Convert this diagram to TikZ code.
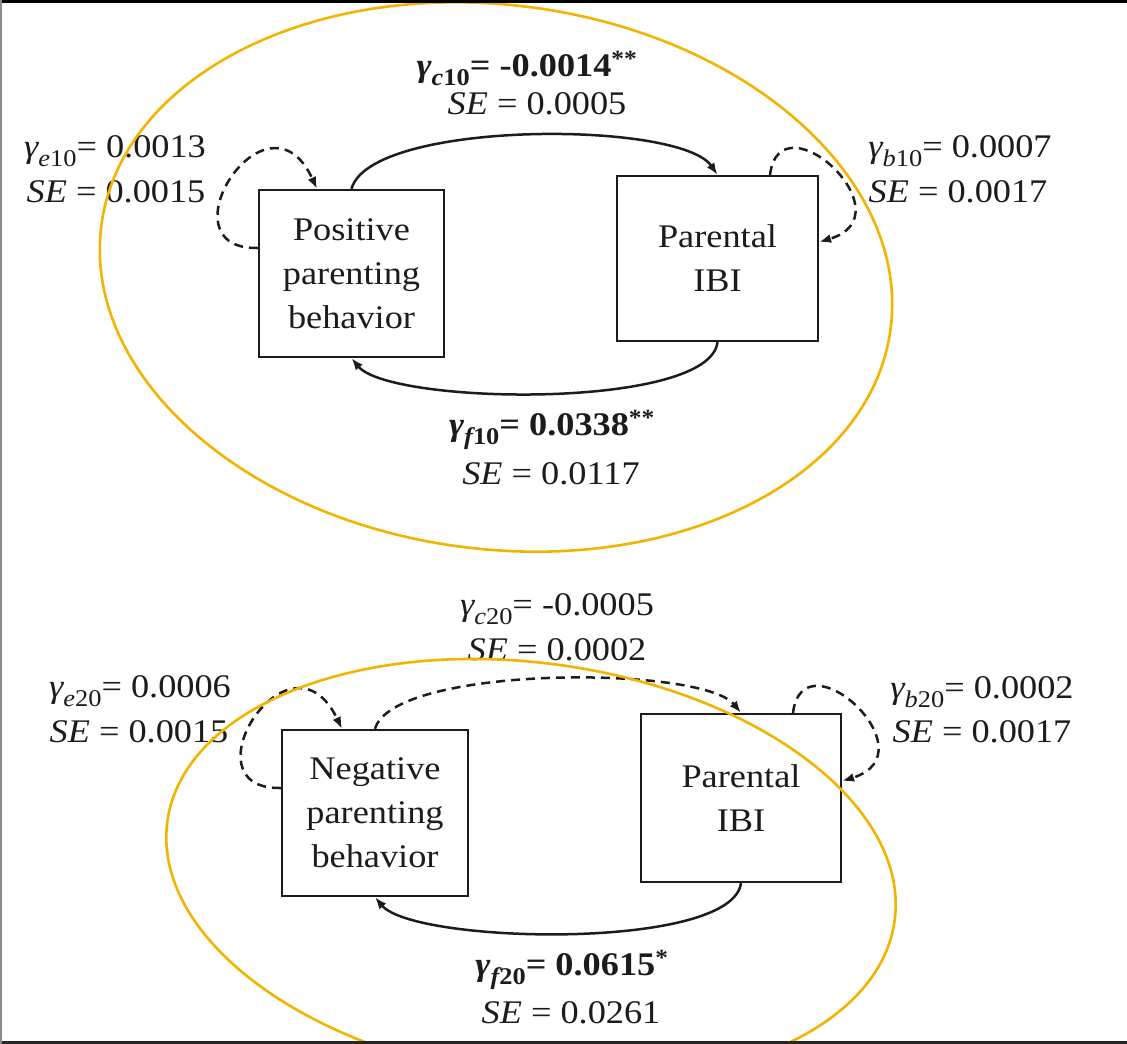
\documentclass[tikz,border=0pt]{standalone}
\usepackage{fontspec}
\setmainfont{Liberation Serif}[FakeStretch=1.1]
\usetikzlibrary{arrows.meta}

\definecolor{ringorange}{RGB}{242,180,0}
\definecolor{ink}{RGB}{28,28,28}

% fonts for boxes and coefficient labels
\newcommand\boxfont{\fontsize{33}{44}\selectfont}
\newcommand\labfont{\fontsize{33}{40}\selectfont}
% lowered subscript of a gamma coefficient
\newcommand\gsub[1]{\raisebox{-0.28em}{\fontsize{24}{24}\selectfont #1}}
% gamma with its subscript, followed by "="
\newcommand\glab[2]{{\itshape γ}\gsub{\itshape #1\upshape #2}=}

\begin{document}
\begin{tikzpicture}[x=1pt,y=-1pt,
  stepbox/.style={draw=ink, line width=2.2pt, fill=white, align=center,
    font=\boxfont, text=ink, inner sep=0pt},
  lab/.style={anchor=base, inner sep=0pt, font=\labfont, text=ink},
  boldlab/.style={lab, font=\labfont\bfseries},
  link/.style={draw=ink, line width=2.5pt, -{Latex[length=12pt,width=9pt]}},
  dlink/.style={link, dash pattern=on 9pt off 6pt},
  ring/.style={draw=ringorange, line width=2.6pt}
]
\clip (0,0) rectangle (1127,1044);
\fill[white] (0,0) rectangle (1127,1044);

% boxes
\node[stepbox, minimum width=185pt, minimum height=167pt] (pos) at (351.5,273.5) {Positive\\parenting\\behavior};
\node[stepbox, minimum width=201pt, minimum height=165pt] (ibiA) at (717.5,258.5) {Parental\\IBI};
\node[stepbox, minimum width=186pt, minimum height=166pt] (neg) at (375,813) {Negative\\parenting\\behavior};
\node[stepbox, minimum width=200pt, minimum height=168pt] (ibiB) at (741,798) {Parental\\IBI};

% upper model paths
\draw[link] (pos.north) .. controls (370,120) and (680,120) .. (ibiA.north);
\draw[link] (ibiA.south) .. controls (710,410) and (390,405) .. (pos.south);
\draw[dlink] ([yshift=25.5pt]pos.west) .. controls (159,250) and (267,80) .. ([xshift=-34.5pt]pos.north);
\draw[dlink] ([xshift=52.5pt]ibiA.north) .. controls (780,95) and (910,215) .. ([yshift=16.5pt]ibiA.east);

% lower model paths
\draw[dlink] (neg.north) .. controls (393,665) and (702,665) .. (ibiB.north);
\draw[link] (ibiB.south) .. controls (732,951) and (414,944) .. (neg.south);
\draw[dlink] ([yshift=25pt]neg.west) .. controls (182,790) and (290,620) .. ([xshift=-33pt]neg.north);
\draw[dlink] ([xshift=52pt]ibiB.north) .. controls (803,633) and (933,753) .. ([yshift=17pt]ibiB.east);

% coefficients, upper model
\node[boldlab] (c10) at (527,76) {\glab{c}{10} -0.0014\textsuperscript{**}};
\node[lab] (c10se) at (537,114) {\textit{SE} = 0.0005};
\node[lab] (e10) at (115,157) {\glab{e}{10} 0.0013};
\node[lab] (e10se) at (116,202) {\textit{SE} = 0.0015};
\node[lab] (b10) at (960,157) {\glab{b}{10} 0.0007};
\node[lab] (b10se) at (958,202) {\textit{SE} = 0.0017};
\node[boldlab] (f10) at (552,435) {\glab{f}{10} 0.0338\textsuperscript{**}};
\node[lab] (f10se) at (551,484) {\textit{SE} = 0.0117};

% coefficients, lower model
\node[lab] (c20) at (557,615) {\glab{c}{20} -0.0005};
\node[lab] (c20se) at (557,660) {\textit{SE} = 0.0002};
\node[lab] (e20) at (140,697) {\glab{e}{20} 0.0006};
\node[lab] (e20se) at (139,742) {\textit{SE} = 0.0015};
\node[lab] (b20) at (982,698) {\glab{b}{20} 0.0002};
\node[lab] (b20se) at (982,742) {\textit{SE} = 0.0017};
\node[boldlab] (f20) at (572,975) {\glab{f}{20} 0.0615\textsuperscript{*}};
\node[lab] (f20se) at (571,1023) {\textit{SE} = 0.0261};

% highlight rings
\draw[ring, rotate around={-7.5:(496,277)}] (496,277) ellipse [x radius=398pt, y radius=272pt];
\draw[ring, rotate around={-7.8:(531,871)}] (531,871) ellipse [x radius=367pt, y radius=208pt];

% frame
\draw[line width=3pt, black] (0,1.5) -- (1127,1.5);
\draw[line width=3pt, black!85] (0,1042.5) -- (1127,1042.5);
\draw[line width=2pt, black!45] (1,0) -- (1,1044);
\end{tikzpicture}
\end{document}
